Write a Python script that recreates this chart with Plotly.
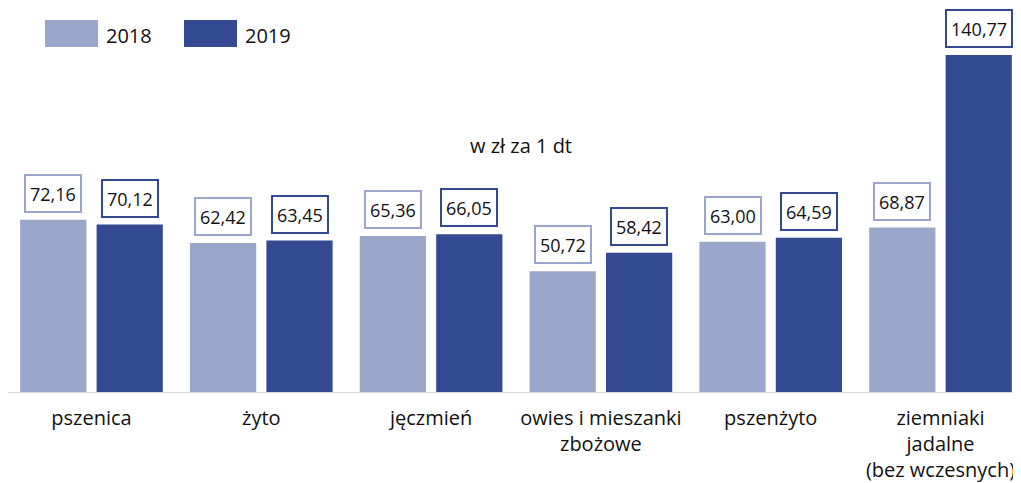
import plotly.graph_objects as go

categories = ["pszenica", "żyto", "jęczmień", "owies i mieszanki<br>zbożowe",
              "pszenżyto", "ziemniaki<br>jadalne<br>(bez wczesnych)"]
years = ["2018", "2019"]
values_2018 = [72.16, 62.42, 65.36, 50.72, 63.00, 68.87]
values_2019 = [70.12, 63.45, 66.05, 58.42, 64.59, 140.77]

colors = {"2018": "#9aa7ca", "2019": "#334a93"}
FONT = "Open Sans, Noto Sans, sans-serif"

# the page body adds an 8px margin, so the figure is 8px smaller
W, H = 1013, 475
PLOT_H = 385


def px(x):
    return (x - 8) / W


def py(y):
    return (PLOT_H - (y - 8)) / PLOT_H


x_pos = list(range(len(categories)))
bar_w = 0.39
offsets = {"2018": -0.42, "2019": 0.03}

fig = go.Figure()
for year, vals in zip(years, [values_2018, values_2019]):
    fig.add_trace(go.Bar(
        x=x_pos, y=vals, name=year,
        width=bar_w, offset=offsets[year],
        marker=dict(color=colors[year], line=dict(width=0)),
        showlegend=False,
    ))
    # boxed value labels
    for xi, v in zip(x_pos, vals):
        fig.add_annotation(
            x=xi + offsets[year] + bar_w / 2, y=v,
            xref="x", yref="y",
            text=f"{v:.2f}".replace(".", ","),
            showarrow=False, yanchor="bottom", yshift=7,
            font=dict(family=FONT, size=18, color="#111111"),
            bgcolor="white", bordercolor=colors[year], borderwidth=2,
            borderpad=4, height=27,
        )

# legend drawn manually (large swatches)
legend_x = [45, 184]
for year, lx in zip(years, legend_x):
    fig.add_shape(type="rect", xref="paper", yref="paper",
                  x0=px(lx), x1=px(lx + 53), y0=py(20), y1=py(47),
                  fillcolor=colors[year], line=dict(width=0))
    fig.add_annotation(x=px(lx + 59), y=py(35),
                       xref="paper", yref="paper", text=year,
                       showarrow=False, xanchor="left", yanchor="middle",
                       font=dict(family=FONT, size=20, color="#111111"))

fig.add_annotation(x=px(521), y=py(130), xref="paper", yref="paper",
                   text="w zł za 1 dt", showarrow=False,
                   font=dict(family=FONT, size=20, color="#111111"))

fig.update_layout(
    width=W, height=H,
    margin=dict(l=0, r=0, t=0, b=H - PLOT_H),
    plot_bgcolor="white", paper_bgcolor="white",
    font=dict(family=FONT, size=20, color="#111111"),
    xaxis=dict(range=[-0.4917, 5.474], tickvals=x_pos, ticktext=categories,
               automargin=False, tickfont=dict(size=20), ticklabelstandoff=11,
               showgrid=False, zeroline=False, showline=False, ticks=""),
    yaxis=dict(range=[0, 160.3], visible=False, showgrid=False, zeroline=False,
               automargin=False),
)
fig.add_shape(type="line", xref="paper", yref="y", x0=0, x1=1, y0=0, y1=0,
              line=dict(color="#d9d9d9", width=2))

fig.write_html("out.html")
